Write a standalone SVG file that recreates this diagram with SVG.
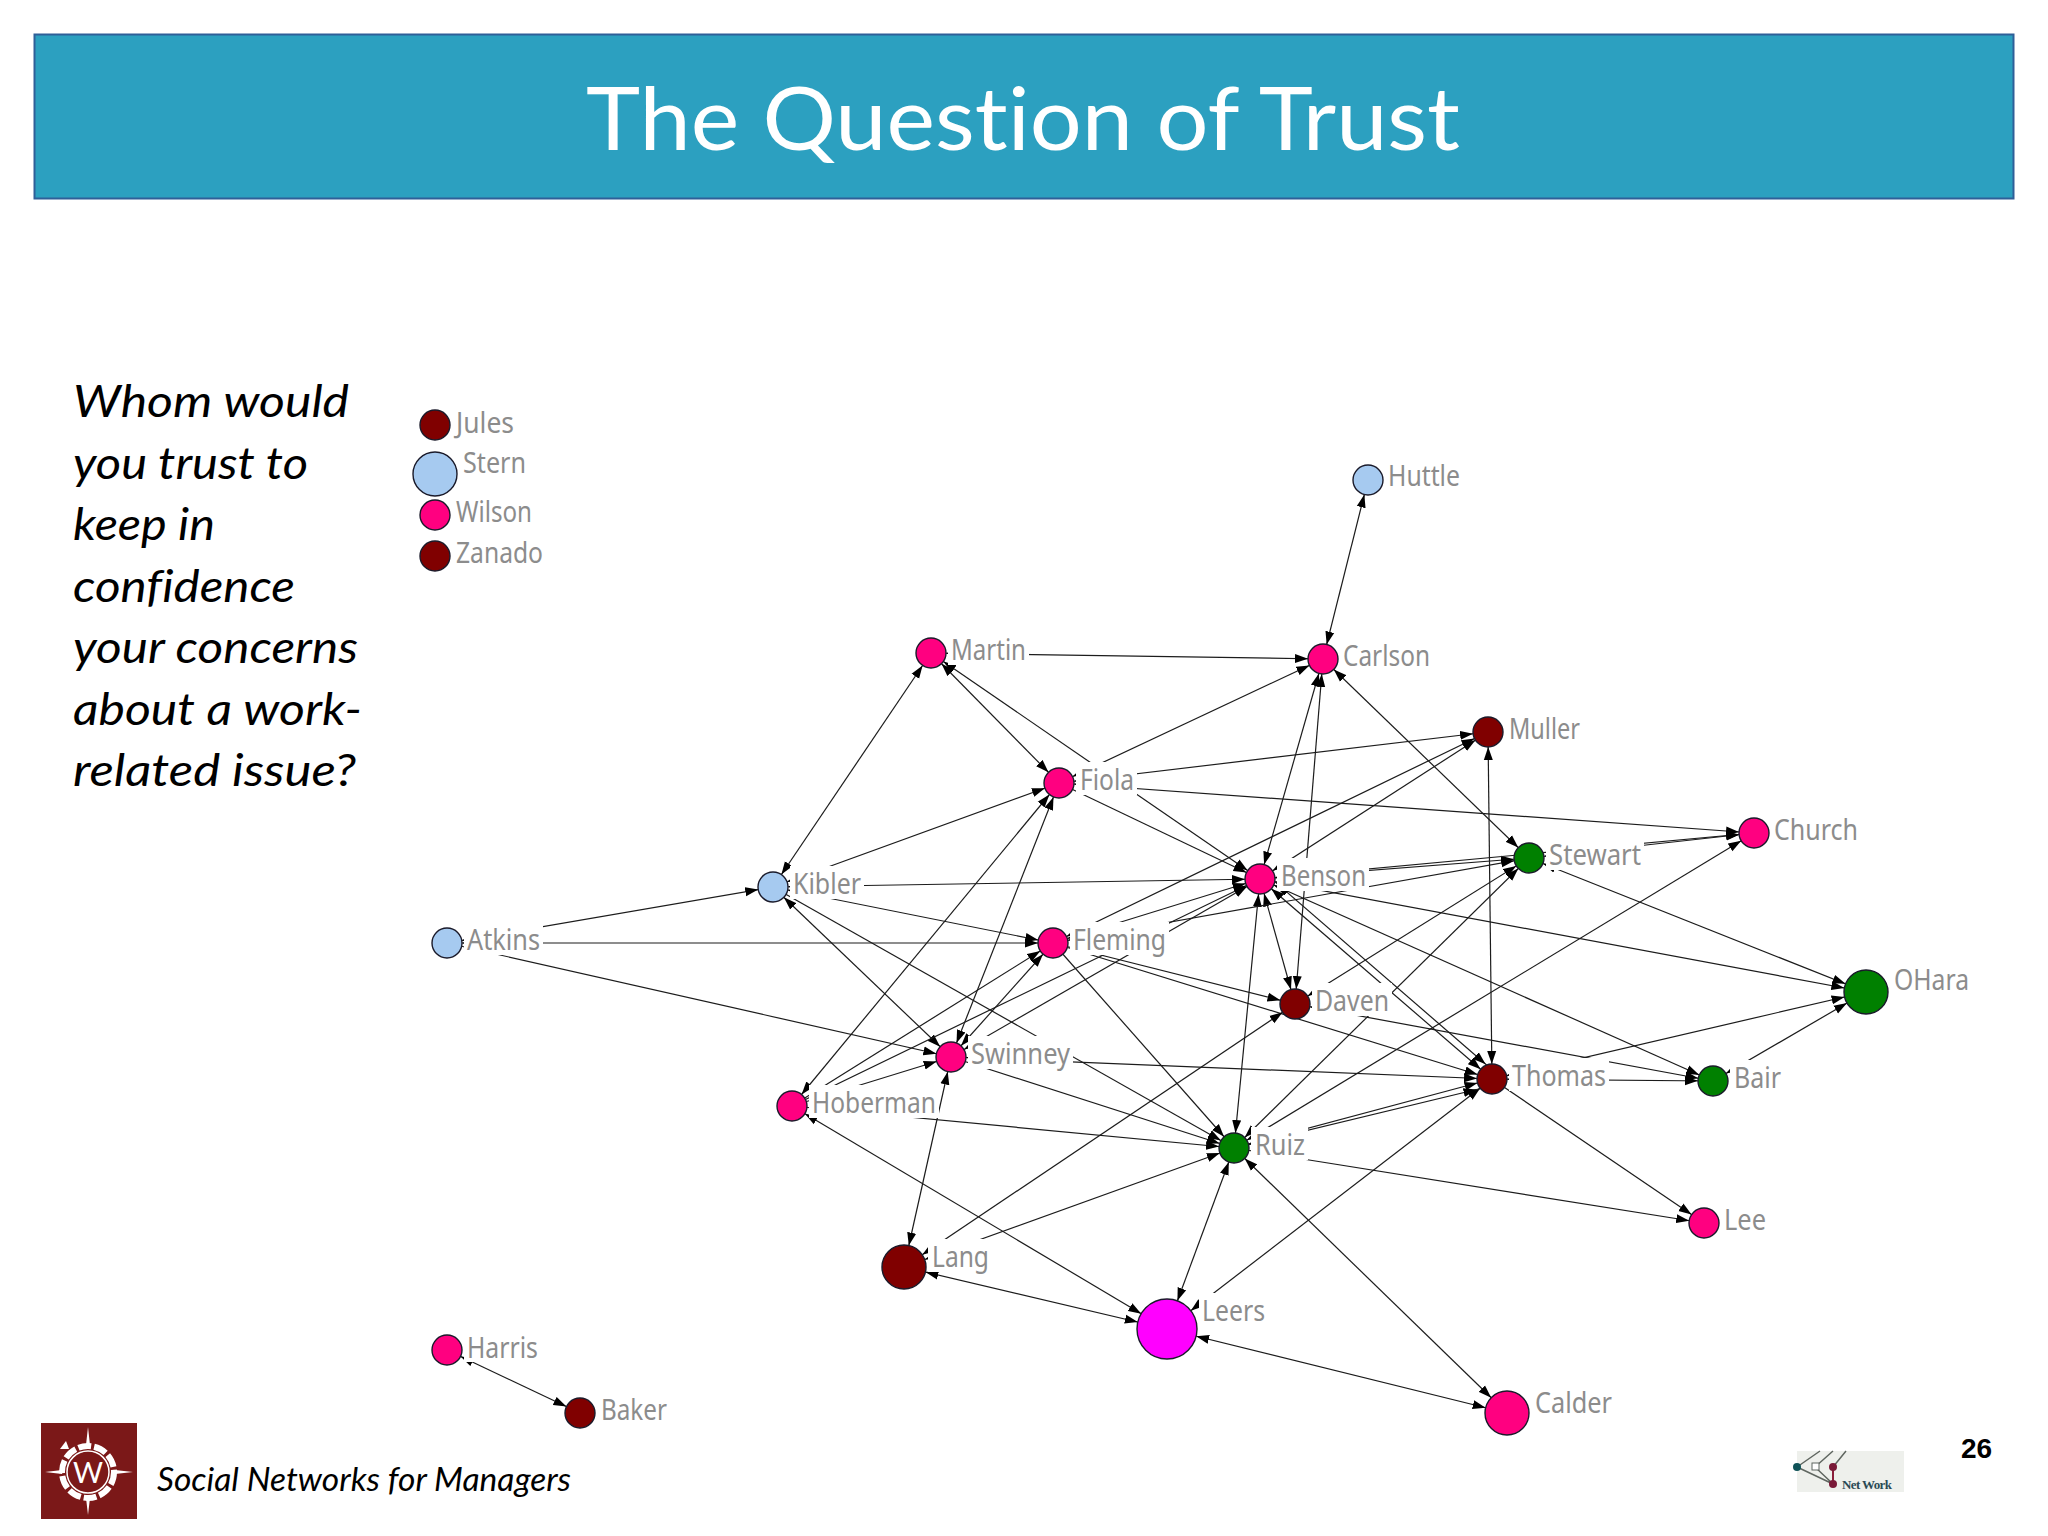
<svg xmlns="http://www.w3.org/2000/svg" width="2048" height="1536" viewBox="0 0 2048 1536">
<style>
text{font-variant-ligatures:none}
.s15{marker-start:url(#a15)}.s22{marker-start:url(#a22)}.s30{marker-start:url(#a30)}
.e15{marker-end:url(#a15)}.e22{marker-end:url(#a22)}.e30{marker-end:url(#a30)}
#connectors line{stroke:#1c1c1c;stroke-width:1.2;fill:none}
.m{fill:#800000}.g{fill:#008000}.p{fill:#ff0080}.v{fill:#ff00ff}.b{fill:#a6caf0}
circle.n{stroke:#1a1a2a;stroke-width:1.4}
.bg{fill:#fff}
.lb{font-family:"Noto Sans","Liberation Sans",sans-serif;font-size:29px;fill:#8c8c8c}
.q{font-family:Lato,"Liberation Sans",sans-serif;font-style:italic;font-size:44px;fill:#000}
</style>
<defs>
<marker id="a15" markerUnits="userSpaceOnUse" markerWidth="14" markerHeight="10" refX="28" refY="5" orient="auto-start-reverse"><path d="M0,0.5L13,5L0,9.5z" fill="#000"/></marker>
<marker id="a22" markerUnits="userSpaceOnUse" markerWidth="14" markerHeight="10" refX="35" refY="5" orient="auto-start-reverse"><path d="M0,0.5L13,5L0,9.5z" fill="#000"/></marker>
<marker id="a30" markerUnits="userSpaceOnUse" markerWidth="14" markerHeight="10" refX="43" refY="5" orient="auto-start-reverse"><path d="M0,0.5L13,5L0,9.5z" fill="#000"/></marker>
</defs>
<rect width="2048" height="1536" fill="#fff"/>
<g id="header">
<rect x="34.5" y="34.500" width="1979" height="164" fill="#2ca0c0" stroke="#2f5f98" stroke-width="2"/>
<text x="586" y="150" font-family="Lato,'Liberation Sans',sans-serif" font-size="87" fill="#fff" textLength="874" lengthAdjust="spacingAndGlyphs">The Question of Trust</text>
</g>
<g id="question">
<text class="q" x="73" y="417" textLength="276" lengthAdjust="spacingAndGlyphs">Whom would</text>
<text class="q" x="73" y="479" textLength="235" lengthAdjust="spacingAndGlyphs">you trust to</text>
<text class="q" x="73" y="540" textLength="142" lengthAdjust="spacingAndGlyphs">keep in</text>
<text class="q" x="73" y="602" textLength="222" lengthAdjust="spacingAndGlyphs">confidence</text>
<text class="q" x="73" y="663" textLength="285" lengthAdjust="spacingAndGlyphs">your concerns</text>
<text class="q" x="73" y="725" textLength="289" lengthAdjust="spacingAndGlyphs">about a work-</text>
<text class="q" x="73" y="786" textLength="283" lengthAdjust="spacingAndGlyphs">related issue?</text>
</g>
<g id="connectors">
<line x1="1368" y1="480" x2="1323" y2="659" class="s15 e15"/>
<line x1="931" y1="653" x2="1323" y2="659" class="s15 e15"/>
<line x1="931" y1="653" x2="1059" y2="783" class="s15 e15"/>
<line x1="931" y1="653" x2="1260" y2="879" class="s15 e15"/>
<line x1="773" y1="887" x2="931" y2="653" class="s15 e15"/>
<line x1="773" y1="887" x2="1059" y2="783" class="s15 e15"/>
<line x1="1059" y1="783" x2="1323" y2="659" class="s15 e15"/>
<line x1="1059" y1="783" x2="1488" y2="732" class="s15 e15"/>
<line x1="1059" y1="783" x2="1754" y2="833" class="s15 e15"/>
<line x1="1059" y1="783" x2="1260" y2="879" class="e15"/>
<line x1="773" y1="887" x2="1260" y2="879" class="s15 e15"/>
<line x1="773" y1="887" x2="1053" y2="943" class="s15 e15"/>
<line x1="447" y1="943" x2="773" y2="887" class="s15 e15"/>
<line x1="447" y1="943" x2="1053" y2="943" class="s15 e15"/>
<line x1="447" y1="943" x2="951" y2="1057" class="e15"/>
<line x1="773" y1="887" x2="951" y2="1057" class="s15 e15"/>
<line x1="773" y1="887" x2="1234" y2="1148" class="e15"/>
<line x1="792" y1="1106" x2="1059" y2="783" class="s15 e15"/>
<line x1="951" y1="1057" x2="1059" y2="783" class="s15 e15"/>
<line x1="792" y1="1106" x2="1053" y2="943" class="e15"/>
<line x1="951" y1="1057" x2="1053" y2="943" class="s15 e15"/>
<line x1="792" y1="1106" x2="951" y2="1057" class="e15"/>
<line x1="792" y1="1106" x2="1260" y2="879" class="e15"/>
<line x1="951" y1="1057" x2="1260" y2="879" class="s15 e15"/>
<line x1="1053" y1="943" x2="1260" y2="879" class="s15 e15"/>
<line x1="1053" y1="943" x2="1488" y2="732" class="s15 e15"/>
<line x1="1260" y1="879" x2="1488" y2="732" class="s15 e15"/>
<line x1="1260" y1="879" x2="1323" y2="659" class="s15 e15"/>
<line x1="1323" y1="659" x2="1295" y2="1004" class="s15 e15"/>
<line x1="1260" y1="879" x2="1295" y2="1004" class="s15 e15"/>
<line x1="1053" y1="943" x2="1295" y2="1004" class="e15"/>
<line x1="1053" y1="943" x2="1492" y2="1079" class="e15"/>
<line x1="1053" y1="943" x2="1234" y2="1148" class="e15"/>
<line x1="1260" y1="879" x2="1234" y2="1148" class="s15 e15"/>
<line x1="904" y1="1267" x2="1295" y2="1004" class="s22 e15"/>
<line x1="904" y1="1267" x2="1234" y2="1148" class="s22 e15"/>
<line x1="951" y1="1057" x2="904" y2="1267" class="s15 e22"/>
<line x1="951" y1="1057" x2="1492" y2="1079" class="s15 e15"/>
<line x1="951" y1="1057" x2="1234" y2="1148" class="e15"/>
<line x1="792" y1="1106" x2="1234" y2="1148" class="e15"/>
<line x1="792" y1="1106" x2="1167" y2="1329" class="s15 e30"/>
<line x1="904" y1="1267" x2="1167" y2="1329" class="s22 e30"/>
<line x1="1167" y1="1329" x2="1234" y2="1148" class="s30 e15"/>
<line x1="1167" y1="1329" x2="1492" y2="1079" class="s30 e15"/>
<line x1="1167" y1="1329" x2="1507" y2="1413" class="s30 e22"/>
<line x1="1234" y1="1148" x2="1507" y2="1413" class="s15 e22"/>
<line x1="1234" y1="1148" x2="1704" y2="1223" class="e15"/>
<line x1="1234" y1="1148" x2="1492" y2="1079" class="s15 e15"/>
<line x1="1234" y1="1148" x2="1491" y2="1086" class="s15 e15"/>
<line x1="1295" y1="1004" x2="1529" y2="858" class="s15 e15"/>
<line x1="1234" y1="1148" x2="1529" y2="858" class="s15 e15"/>
<line x1="1234" y1="1148" x2="1754" y2="833" class="s15 e15"/>
<line x1="1260" y1="879" x2="1529" y2="858" class="s15 e15"/>
<line x1="1053" y1="943" x2="1529" y2="858" class="s15 e15"/>
<line x1="1260" y1="879" x2="1754" y2="833" class="s15 e15"/>
<line x1="1529" y1="858" x2="1754" y2="833" class="s15 e15"/>
<line x1="1529" y1="858" x2="1866" y2="992" class="s15 e22"/>
<line x1="1323" y1="659" x2="1529" y2="858" class="s15 e15"/>
<line x1="1260" y1="879" x2="1866" y2="992" class="s15 e22"/>
<line x1="1260" y1="879" x2="1713" y2="1081" class="s15 e15"/>
<line x1="1260" y1="879" x2="1492" y2="1079" class="s15 e15"/>
<line x1="1266" y1="874" x2="1497" y2="1074" class="s15 e15"/>
<line x1="1295" y1="1004" x2="1713" y2="1081" class="s15 e15"/>
<line x1="1492" y1="1079" x2="1713" y2="1081" class="s15 e15"/>
<line x1="1492" y1="1079" x2="1866" y2="992" class="s15 e22"/>
<line x1="1713" y1="1081" x2="1866" y2="992" class="s15 e22"/>
<line x1="1492" y1="1079" x2="1704" y2="1223" class="e15"/>
<line x1="1488" y1="732" x2="1492" y2="1079" class="s15 e15"/>
<line x1="447" y1="1350" x2="580" y2="1413" class="s15 e15"/>
</g>
<g id="nodes">
<g id="n-jules"><rect class="bg" x="452" y="404" width="65" height="33"/><circle class="n m" cx="435" cy="425" r="15"/><text class="lb" x="456" y="433" textLength="58" lengthAdjust="spacingAndGlyphs">Jules</text></g>
<g id="n-stern"><rect class="bg" x="459" y="445" width="70" height="33"/><circle class="n b" cx="435" cy="474" r="22"/><text class="lb" x="463" y="473" textLength="63" lengthAdjust="spacingAndGlyphs">Stern</text></g>
<g id="n-wilson"><rect class="bg" x="452" y="495" width="83" height="33"/><circle class="n p" cx="435" cy="515" r="15"/><text class="lb" x="456" y="522" textLength="76" lengthAdjust="spacingAndGlyphs">Wilson</text></g>
<g id="n-zanado"><rect class="bg" x="452" y="536" width="94" height="33"/><circle class="n m" cx="435" cy="556" r="15"/><text class="lb" x="456" y="563" textLength="87" lengthAdjust="spacingAndGlyphs">Zanado</text></g>
<g id="n-huttle"><rect class="bg" x="1385" y="459" width="79" height="33"/><circle class="n b" cx="1368" cy="480" r="15"/><text class="lb" x="1388" y="486" textLength="72" lengthAdjust="spacingAndGlyphs">Huttle</text></g>
<g id="n-martin"><rect class="bg" x="948" y="632" width="81" height="33"/><circle class="n p" cx="931" cy="653" r="15"/><text class="lb" x="951" y="660" textLength="75" lengthAdjust="spacingAndGlyphs">Martin</text></g>
<g id="n-carlson"><rect class="bg" x="1340" y="638" width="93" height="33"/><circle class="n p" cx="1323" cy="659" r="15"/><text class="lb" x="1343" y="666" textLength="87" lengthAdjust="spacingAndGlyphs">Carlson</text></g>
<g id="n-muller"><rect class="bg" x="1505" y="711" width="78" height="33"/><circle class="n m" cx="1488" cy="732" r="15"/><text class="lb" x="1509" y="739" textLength="71" lengthAdjust="spacingAndGlyphs">Muller</text></g>
<g id="n-fiola"><rect class="bg" x="1076" y="762" width="61" height="33"/><circle class="n p" cx="1059" cy="783" r="15"/><text class="lb" x="1080" y="790" textLength="54" lengthAdjust="spacingAndGlyphs">Fiola</text></g>
<g id="n-church"><rect class="bg" x="1771" y="812" width="90" height="33"/><circle class="n p" cx="1754" cy="833" r="15"/><text class="lb" x="1774" y="840" textLength="84" lengthAdjust="spacingAndGlyphs">Church</text></g>
<g id="n-stewart"><rect class="bg" x="1546" y="837" width="98" height="33"/><circle class="n g" cx="1529" cy="858" r="15"/><text class="lb" x="1549" y="865" textLength="92" lengthAdjust="spacingAndGlyphs">Stewart</text></g>
<g id="n-kibler"><rect class="bg" x="790" y="866" width="74" height="33"/><circle class="n b" cx="773" cy="887" r="15"/><text class="lb" x="793" y="894" textLength="68" lengthAdjust="spacingAndGlyphs">Kibler</text></g>
<g id="n-benson"><rect class="bg" x="1277" y="858" width="92" height="33"/><circle class="n p" cx="1260" cy="879" r="15"/><text class="lb" x="1281" y="886" textLength="85" lengthAdjust="spacingAndGlyphs">Benson</text></g>
<g id="n-atkins"><rect class="bg" x="464" y="922" width="79" height="33"/><circle class="n b" cx="447" cy="943" r="15"/><text class="lb" x="467" y="950" textLength="73" lengthAdjust="spacingAndGlyphs">Atkins</text></g>
<g id="n-fleming"><rect class="bg" x="1070" y="922" width="99" height="33"/><circle class="n p" cx="1053" cy="943" r="15"/><text class="lb" x="1073" y="950" textLength="93" lengthAdjust="spacingAndGlyphs">Fleming</text></g>
<g id="n-daven"><rect class="bg" x="1312" y="983" width="80" height="33"/><circle class="n m" cx="1295" cy="1004" r="15"/><text class="lb" x="1315" y="1011" textLength="74" lengthAdjust="spacingAndGlyphs">Daven</text></g>
<g id="n-ohara"><rect class="bg" x="1890" y="963" width="82" height="33"/><circle class="n g" cx="1866" cy="992" r="22"/><text class="lb" x="1894" y="990" textLength="75" lengthAdjust="spacingAndGlyphs">OHara</text></g>
<g id="n-swinney"><rect class="bg" x="968" y="1036" width="105" height="33"/><circle class="n p" cx="951" cy="1057" r="15"/><text class="lb" x="971" y="1064" textLength="99" lengthAdjust="spacingAndGlyphs">Swinney</text></g>
<g id="n-thomas"><rect class="bg" x="1509" y="1058" width="100" height="33"/><circle class="n m" cx="1492" cy="1079" r="15"/><text class="lb" x="1512" y="1086" textLength="94" lengthAdjust="spacingAndGlyphs">Thomas</text></g>
<g id="n-bair"><rect class="bg" x="1730" y="1060" width="54" height="33"/><circle class="n g" cx="1713" cy="1081" r="15"/><text class="lb" x="1734" y="1088" textLength="47" lengthAdjust="spacingAndGlyphs">Bair</text></g>
<g id="n-hoberman"><rect class="bg" x="809" y="1085" width="130" height="33"/><circle class="n p" cx="792" cy="1106" r="15"/><text class="lb" x="812" y="1113" textLength="124" lengthAdjust="spacingAndGlyphs">Hoberman</text></g>
<g id="n-ruiz"><rect class="bg" x="1251" y="1127" width="57" height="33"/><circle class="n g" cx="1234" cy="1148" r="15"/><text class="lb" x="1255" y="1155" textLength="50" lengthAdjust="spacingAndGlyphs">Ruiz</text></g>
<g id="n-lee"><rect class="bg" x="1721" y="1202" width="49" height="33"/><circle class="n p" cx="1704" cy="1223" r="15"/><text class="lb" x="1724" y="1230" textLength="42" lengthAdjust="spacingAndGlyphs">Lee</text></g>
<g id="n-lang"><rect class="bg" x="928" y="1239" width="64" height="33"/><circle class="n m" cx="904" cy="1267" r="22"/><text class="lb" x="932" y="1267" textLength="57" lengthAdjust="spacingAndGlyphs">Lang</text></g>
<g id="n-leers"><rect class="bg" x="1199" y="1293" width="69" height="33"/><circle class="n v" cx="1167" cy="1329" r="30"/><text class="lb" x="1202" y="1321" textLength="63" lengthAdjust="spacingAndGlyphs">Leers</text></g>
<g id="n-calder"><rect class="bg" x="1531" y="1384" width="84" height="33"/><circle class="n p" cx="1507" cy="1413" r="22"/><text class="lb" x="1535" y="1413" textLength="77" lengthAdjust="spacingAndGlyphs">Calder</text></g>
<g id="n-harris"><rect class="bg" x="464" y="1329" width="77" height="33"/><circle class="n p" cx="447" cy="1350" r="15"/><text class="lb" x="467" y="1358" textLength="71" lengthAdjust="spacingAndGlyphs">Harris</text></g>
<g id="n-baker"><rect class="bg" x="597" y="1392" width="73" height="33"/><circle class="n m" cx="580" cy="1413" r="15"/><text class="lb" x="601" y="1420" textLength="66" lengthAdjust="spacingAndGlyphs">Baker</text></g>
</g>
<g id="footer">
<rect x="41" y="1423" width="96" height="96" fill="#7b1818"/>
<path d="M88,1427L92.5,1467.5L133,1472L92.5,1476.5L88,1515L83.5,1476.5L45,1472L83.5,1467.5z" fill="#fff"/>
<circle cx="88" cy="1472" r="26" fill="#7b1818" stroke="#fff" stroke-width="6" stroke-dasharray="13 3"/>
<circle cx="88" cy="1472" r="21" fill="#7b1818" stroke="#fff" stroke-width="1.5"/>
<path d="M60,1449L66,1441L69,1449z" fill="#fff"/>
<text x="88" y="1483" text-anchor="middle" font-family="Lato,'Liberation Sans',sans-serif" font-size="29" fill="#fff">W</text>
<text x="157" y="1491" font-family="Lato,'Liberation Sans',sans-serif" font-style="italic" font-size="32" fill="#000" textLength="414" lengthAdjust="spacingAndGlyphs">Social Networks for Managers</text>
<rect x="1797" y="1451" width="107" height="41" fill="#eef0ec"/>
<path d="M1797,1467L1820,1451M1815,1467L1833,1451M1833,1467L1846,1451M1797,1467L1833,1484M1815,1467L1833,1484" stroke="#5f6660" stroke-width="1.5" fill="none"/>
<path d="M1833,1467V1484" stroke="#8a1f3a" stroke-width="2" fill="none"/>
<circle cx="1797" cy="1467" r="4" fill="#0f5257"/>
<rect x="1812" y="1463" width="7" height="7" fill="#fff" stroke="#5f6660"/>
<circle cx="1833" cy="1467" r="4" fill="#7a1a38"/>
<circle cx="1833" cy="1484" r="4" fill="#7a1a38"/>
<text x="1842" y="1489" font-family="'Liberation Serif',serif" font-weight="700" font-size="13" fill="#2a4a55" textLength="50">Net Work</text>
<text x="1961" y="1458" font-family="'Liberation Sans',sans-serif" font-weight="700" font-size="28" fill="#000">26</text>
</g>
</svg>
